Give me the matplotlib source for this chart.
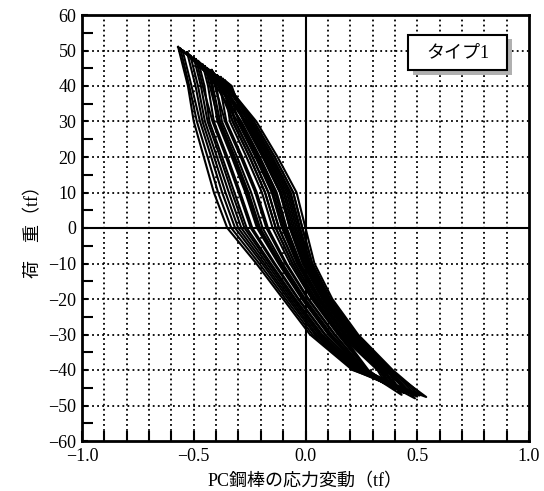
import matplotlib
matplotlib.use("Agg")
import matplotlib.pyplot as plt
from matplotlib.patches import Rectangle

plt.rcParams["font.family"] = ["Liberation Serif", "Noto Sans CJK JP", "DejaVu Sans"]

# =====================
# data: hysteresis loops (load vs PC bar stress change)
# =====================
load_levels = [40, 30, 20, 10, 0, -10, -20, -30, -40]

top_x = [-0.57, -0.55, -0.515, -0.48, -0.46, -0.44, -0.415, -0.395, -0.37, -0.53, -0.50, -0.45,
         -0.38, -0.42, -0.49, -0.36, -0.56, -0.43]
top_y = [51.0, 50.0, 48.5, 47.0, 46.0, 45.0, 44.0, 43.0, 42.0, 49.5, 48.0, 45.5,
         42.5, 44.5, 47.5, 41.5, 50.5, 44.5]
bottom_x = [0.54, 0.52, 0.47, 0.50, 0.45, 0.49, 0.43, 0.46, 0.42, 0.40, 0.38, 0.44,
            0.39, 0.37, 0.36, 0.40, 0.48, 0.51]
bottom_y = [-47.6, -47.0, -46.5, -47.5, -46.0, -48.0, -47.0, -46.0, -45.5, -45.0, -44.5, -46.5,
            -45.0, -44.0, -44.0, -45.5, -47.0, -47.2]

# x at load_levels while load goes from + peak to - peak
unload_x = [
    [-0.360, -0.242, -0.151, -0.070, -0.028, 0.019, 0.102, 0.218, 0.376],
    [-0.350, -0.220, -0.125, -0.040, 0.000, 0.040, 0.120, 0.235, 0.390],
    [-0.370, -0.254, -0.165, -0.084, -0.042, 0.009, 0.094, 0.209, 0.368],
    [-0.350, -0.231, -0.138, -0.055, -0.014, 0.030, 0.111, 0.226, 0.383],
    [-0.370, -0.265, -0.178, -0.099, -0.056, -0.002, 0.085, 0.201, 0.361],
    [-0.350, -0.240, -0.148, -0.066, -0.024, 0.022, 0.105, 0.220, 0.377],
    [-0.360, -0.276, -0.191, -0.114, -0.070, -0.012, 0.076, 0.192, 0.354],
    [-0.340, -0.248, -0.158, -0.077, -0.035, 0.014, 0.098, 0.214, 0.372],
    [-0.335, -0.259, -0.171, -0.092, -0.049, 0.004, 0.089, 0.205, 0.365],
    [-0.390, -0.287, -0.204, -0.129, -0.084, -0.022, 0.067, 0.183, 0.347],
    [-0.400, -0.304, -0.224, -0.151, -0.105, -0.038, 0.054, 0.171, 0.336],
    [-0.380, -0.293, -0.211, -0.136, -0.091, -0.028, 0.063, 0.179, 0.343],
    [-0.350, -0.298, -0.217, -0.144, -0.098, -0.033, 0.058, 0.175, 0.340],
    [-0.370, -0.315, -0.237, -0.166, -0.119, -0.048, 0.045, 0.162, 0.329],
    [-0.390, -0.326, -0.250, -0.181, -0.133, -0.059, 0.036, 0.153, 0.322],
    [-0.330, -0.276, -0.191, -0.114, -0.070, -0.012, 0.076, 0.192, 0.354],
    [-0.380, -0.270, -0.184, -0.107, -0.063, -0.007, 0.080, 0.196, 0.358],
    [-0.345, -0.231, -0.138, -0.055, -0.014, 0.030, 0.111, 0.226, 0.383],
]

# x at load_levels (reversed) while load goes from - peak back to + peak
reload_x = [
    [0.210, 0.020, -0.100, -0.220, -0.350, -0.410, -0.455, -0.500, -0.526],
    [0.221, 0.042, -0.078, -0.194, -0.315, -0.373, -0.422, -0.472, -0.510],
    [0.229, 0.059, -0.060, -0.173, -0.287, -0.343, -0.396, -0.450, -0.481],
    [0.237, 0.074, -0.045, -0.155, -0.263, -0.318, -0.373, -0.430, -0.452],
    [0.245, 0.089, -0.030, -0.137, -0.238, -0.292, -0.349, -0.410, -0.436],
    [0.251, 0.102, -0.016, -0.121, -0.217, -0.269, -0.330, -0.394, -0.420],
    [0.259, 0.117, -0.001, -0.103, -0.192, -0.243, -0.306, -0.374, -0.399],
    [0.266, 0.132, 0.014, -0.085, -0.168, -0.218, -0.283, -0.354, -0.383],
    [0.273, 0.145, 0.028, -0.069, -0.147, -0.195, -0.264, -0.338, -0.362],
    [0.225, 0.050, -0.069, -0.184, -0.301, -0.358, -0.409, -0.461, -0.492],
    [0.234, 0.067, -0.052, -0.163, -0.273, -0.329, -0.382, -0.438, -0.468],
    [0.253, 0.106, -0.012, -0.116, -0.210, -0.262, -0.323, -0.388, -0.428],
    [0.277, 0.153, 0.036, -0.059, -0.133, -0.181, -0.250, -0.326, -0.370],
    [0.264, 0.128, 0.010, -0.090, -0.175, -0.225, -0.290, -0.360, -0.405],
    [0.242, 0.085, -0.034, -0.142, -0.245, -0.299, -0.356, -0.416, -0.460],
    [0.281, 0.162, 0.045, -0.048, -0.119, -0.166, -0.237, -0.315, -0.352],
    [0.215, 0.031, -0.089, -0.207, -0.332, -0.391, -0.438, -0.486, -0.520],
    [0.255, 0.110, -0.008, -0.111, -0.203, -0.255, -0.316, -0.382, -0.415],
]

x_ticks = [-1.0, -0.5, 0.0, 0.5, 1.0]
y_ticks = [-60, -50, -40, -30, -20, -10, 0, 10, 20, 30, 40, 50, 60]

# =====================
# figure
# =====================
fig = plt.figure(figsize=(5.44, 4.91), dpi=100)
ax = fig.add_axes([82 / 544, 50 / 491, 447 / 544, 426 / 491])
ax.set_xlim(-1.0, 1.0)
ax.set_ylim(-60, 60)

# dotted grid
for i in range(-9, 10):
    if i != 0:
        ax.axvline(i / 10, color="black", lw=1.3, ls=(0, (1, 1.8)), zorder=1)
for j in range(-5, 6):
    if j != 0:
        ax.axhline(j * 10, color="black", lw=1.3, ls=(0, (1, 1.8)), zorder=1)
ax.axvline(0, color="black", lw=1.5, zorder=2)
ax.axhline(0, color="black", lw=1.5, zorder=2)

# loops
for k in range(len(top_x)):
    xs = [top_x[k]] + unload_x[k] + [bottom_x[k]] + reload_x[k] + [top_x[k]]
    ys = [top_y[k]] + load_levels + [bottom_y[k]] + load_levels[::-1] + [top_y[k]]
    ax.plot(xs, ys, color="black", lw=1.5, zorder=3)

# ticks
ax.set_xticks(x_ticks)
ax.set_xticklabels(["−1.0", "−0.5", "0.0", "0.5", "1.0"])
ax.set_xticks([i / 10 for i in range(-9, 10)], minor=True)
ax.set_yticks(y_ticks)
ax.set_yticklabels([("−" + str(-v)) if v < 0 else str(v) for v in y_ticks])
ax.set_yticks(list(range(-55, 60, 10)), minor=True)
ax.tick_params(axis="x", which="both", direction="in", length=7, width=1.5,
               top=False, labelsize=13, pad=5)
ax.tick_params(axis="y", which="major", direction="in", length=4, width=1.5,
               right=False, labelsize=13, pad=4)
ax.tick_params(axis="y", which="minor", direction="in", length=8, width=1.5, right=False)
for s in ax.spines.values():
    s.set_linewidth(2)

ax.set_xlabel("PC鋼棒の応力変動（tf）", fontsize=13, labelpad=6)
ax.set_ylabel("荷　重（tf）", fontsize=13, labelpad=4)

# label box with shadow
ax.add_patch(Rectangle((0.740, 0.860), 0.222, 0.083, transform=ax.transAxes,
                       facecolor="#b0b0b0", edgecolor="none", zorder=5))
ax.add_patch(Rectangle((0.729, 0.871), 0.222, 0.083, transform=ax.transAxes,
                       facecolor="white", edgecolor="black", lw=1.5, zorder=6))
ax.text(0.840, 0.912, "タイプ1", transform=ax.transAxes, fontsize=13,
        ha="center", va="center", zorder=7)

fig.savefig("out.png", dpi=100)
